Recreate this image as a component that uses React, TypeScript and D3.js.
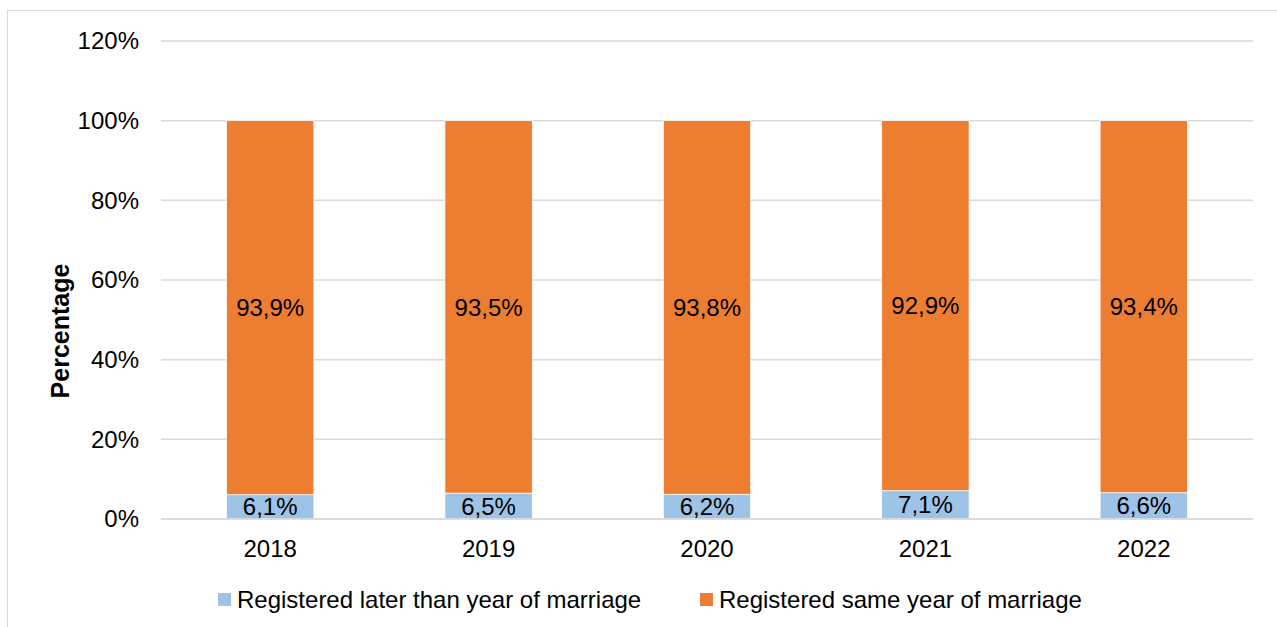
import React from "react";
import * as d3 from "d3";

const years = ["2018", "2019", "2020", "2021", "2022"];
const laterValues = [6.1, 6.5, 6.2, 7.1, 6.6];
const sameValues = [93.9, 93.5, 93.8, 92.9, 93.4];
const yTicks = [0, 20, 40, 60, 80, 100, 120];
const seriesNames = ["Registered later than year of marriage", "Registered same year of marriage"];
const colors = ["#9DC3E6", "#ED7D31"];

const W = 1277;
const H = 627;
const margin = { left: 161, right: 24, top: 41, bottom: 108 };
const font = "Liberation Sans, Arial, sans-serif";
const fs = 24;

const fmt = (v: number) => v.toFixed(1).replace(".", ",") + "%";

export default function App() {
  const x = d3
    .scaleBand<string>()
    .domain(years)
    .range([margin.left, W - margin.right])
    .paddingInner(0.6)
    .paddingOuter(0.3);
  const y = d3.scaleLinear().domain([0, 120]).range([H - margin.bottom, margin.top]);

  const stacked = years.map((yr, i) => ({ yr, later: laterValues[i], same: sameValues[i] }));

  return (
    <svg width={W} height={H} style={{ position: "absolute", left: 0, top: 0, background: "#fff" }} fontFamily={font}>
      <rect x={7.5} y={10.5} width={W + 10} height={H + 10} fill="#fff" stroke="#d9d9d9" strokeWidth={1} />
      {yTicks.map((t) => (
        <g key={t}>
          <line x1={margin.left} x2={W - margin.right} y1={y(t)} y2={y(t)} stroke="#d9d9d9" strokeWidth={1.5} />
          <text x={139} y={y(t)} dy="0.35em" textAnchor="end" fontSize={fs} fill="#000">
            {t}%
          </text>
        </g>
      ))}
      {stacked.map((d) => {
        const bx = x(d.yr)!;
        const bw = x.bandwidth();
        const cx = bx + bw / 2;
        return (
          <g key={d.yr}>
            <rect x={bx} y={y(d.later)} width={bw} height={y(0) - y(d.later)} fill={colors[0]} stroke="#fff" strokeWidth={0.75} />
            <rect x={bx} y={y(d.later + d.same)} width={bw} height={y(d.later) - y(d.later + d.same)} fill={colors[1]} stroke="#fff" strokeWidth={0.75} />
            <text x={cx} y={(y(0) + y(d.later)) / 2} dy="0.36em" textAnchor="middle" fontSize={fs} fill="#000">
              {fmt(d.later)}
            </text>
            <text x={cx} y={(y(d.later) + y(d.later + d.same)) / 2} dy="0.36em" textAnchor="middle" fontSize={fs} fill="#000">
              {fmt(d.same)}
            </text>
            <text x={cx} y={y(0) + 30} dy="0.35em" textAnchor="middle" fontSize={fs} fill="#000">
              {d.yr}
            </text>
          </g>
        );
      })}
      <line x1={margin.left} x2={W - margin.right} y1={y(0)} y2={y(0)} stroke="#d9d9d9" strokeWidth={1.5} />
      <text transform={`translate(60,331) rotate(-90)`} textAnchor="middle" dy="0.35em" fontSize={25} fontWeight="bold" fill="#000">
        Percentage
      </text>
      <g>
        <rect x={218} y={593} width={13} height={13} fill={colors[0]} />
        <text x={237} y={600} dy="0.35em" fontSize={fs} fill="#000">{seriesNames[0]}</text>
        <rect x={700} y={593} width={13} height={13} fill={colors[1]} />
        <text x={719} y={600} dy="0.35em" fontSize={fs} fill="#000">{seriesNames[1]}</text>
      </g>
    </svg>
  );
}
